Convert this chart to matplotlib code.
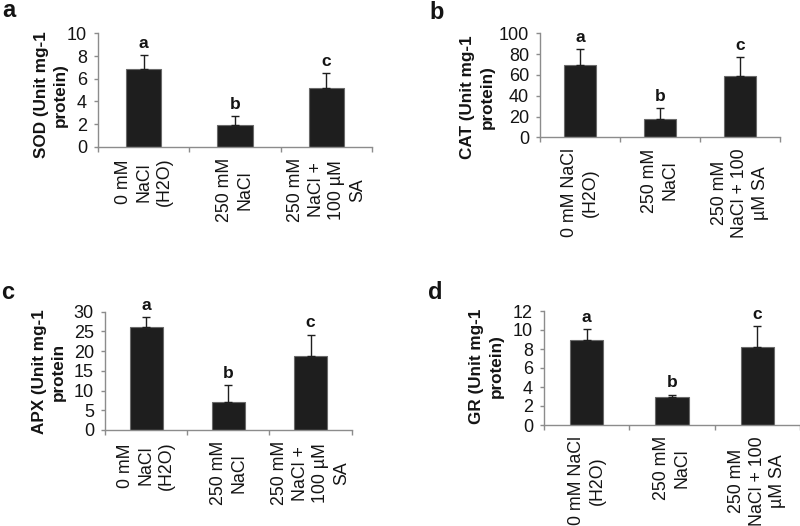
import matplotlib
matplotlib.use("Agg")
import matplotlib.pyplot as plt
import numpy as np

plt.rcParams['font.family'] = ['Liberation Sans', 'DejaVu Sans']

# ---- data ----
labels_a = ["0 mM\nNaCl\n(H2O)", "250 mM\nNaCl", "250 mM\nNaCl +\n100 µM\nSA"]
labels_b = ["0 mM NaCl\n(H2O)", "250 mM\nNaCl", "250 mM\nNaCl + 100\nµM SA"]
letters = ["a", "b", "c"]

sod_mean = [6.9, 1.9, 5.2]
sod_err = [1.2, 0.8, 1.3]
cat_mean = [70, 18, 59]
cat_err = [15, 10, 18]
apx_mean = [26, 7.0, 18.8]
apx_err = [2.6, 4.3, 5.4]
gr_mean = [8.9, 2.9, 8.2]
gr_err = [1.2, 0.3, 2.2]

ylabels = ["SOD (Unit mg-1\nprotein)", "CAT (Unit mg-1\nprotein)",
           "APX (Unit mg-1\nprotein", "GR (Unit mg-1\nprotein)"]
panel_tags = ["a", "b", "c", "d"]

W, H = 800, 526
fig = plt.figure(figsize=(8, 5.26), dpi=100)

def rect(l, t, r, b):
    return [l / W, 1 - b / H, (r - l) / W, (b - t) / H]

panels = [
    dict(rect=rect(98, 33.5, 372, 146.7), mean=sod_mean, err=sod_err, ymax=10, step=2,
         cats=labels_a, ylab=ylabels[0], ylx=51, yly=95, tag=(2, 17), barw=0.39),
    dict(rect=rect(540, 33.3, 780, 137.3), mean=cat_mean, err=cat_err, ymax=100, step=20,
         cats=labels_b, ylab=ylabels[1], ylx=477.5, yly=97, tag=(429, 19), barw=0.41),
    dict(rect=rect(105, 311.7, 351.7, 430), mean=apx_mean, err=apx_err, ymax=30, step=5,
         cats=labels_a, ylab=ylabels[2], ylx=49, yly=372, tag=(1, 299), barw=0.40),
    dict(rect=rect(544, 311, 800, 425), mean=gr_mean, err=gr_err, ymax=12, step=2,
         cats=labels_b, ylab=ylabels[3], ylx=486.5, yly=366, tag=(428, 299), barw=0.39),
]

spine_col = '#8c8c8c'
text_col = '#141414'

for i, p in enumerate(panels):
    ax = fig.add_axes(p['rect'])
    x = np.arange(len(p['mean']))
    ax.bar(x, p['mean'], width=p['barw'], color='#1e1e1e', edgecolor='#6a6a6a',
           linewidth=0.8, zorder=2)
    ax.errorbar(x, p['mean'], yerr=[np.zeros(len(x)), p['err']], fmt='none',
                ecolor='#1e1e1e', elinewidth=1.0, capsize=3, capthick=1.0, zorder=3)
    for xi, m, e, L in zip(x, p['mean'], p['err'], letters):
        ax.annotate(L, (xi, m + e), xytext=(0, 8.5), textcoords='offset points',
                    ha='center', va='center', fontsize=12.5, fontweight='bold',
                    color=text_col, annotation_clip=False)
    ax.set_xlim(-0.5, 2.5)
    ax.set_ylim(0, p['ymax'])
    ax.set_yticks(np.arange(0, p['ymax'] + 0.001, p['step']))
    ax.set_xticks([-0.5, 0.5, 1.5, 2.5])
    ax.set_xticklabels([])
    ax.set_xticks(x, minor=True)
    ax.set_xticklabels(p['cats'], minor=True, rotation=90, ha='center', va='top',
                       multialignment='center', fontsize=12.8, color=text_col,
                       linespacing=1.28)
    ax.tick_params(axis='x', which='minor', length=0, pad=8)
    ax.tick_params(axis='x', which='major', length=3.6, width=1.0, color=spine_col,
                   direction='out')
    ax.tick_params(axis='y', length=3, width=1.0, color=spine_col, pad=5,
                   labelsize=13, labelcolor=text_col)
    for s in ['top', 'right']:
        ax.spines[s].set_visible(False)
    for s in ['left', 'bottom']:
        ax.spines[s].set_color(spine_col)
        ax.spines[s].set_linewidth(1.0)
    fig.text(p['ylx'] / W, 1 - p['yly'] / H, p['ylab'], rotation=90, ha='center',
             va='center', multialignment='center', fontsize=12.3, fontweight='bold',
             color=text_col, linespacing=1.35)
    fig.text(p['tag'][0] / W, 1 - p['tag'][1] / H, panel_tags[i], ha='left',
             va='baseline', fontsize=17, fontweight='bold', color=text_col)

fig.savefig("out.png", dpi=100)
